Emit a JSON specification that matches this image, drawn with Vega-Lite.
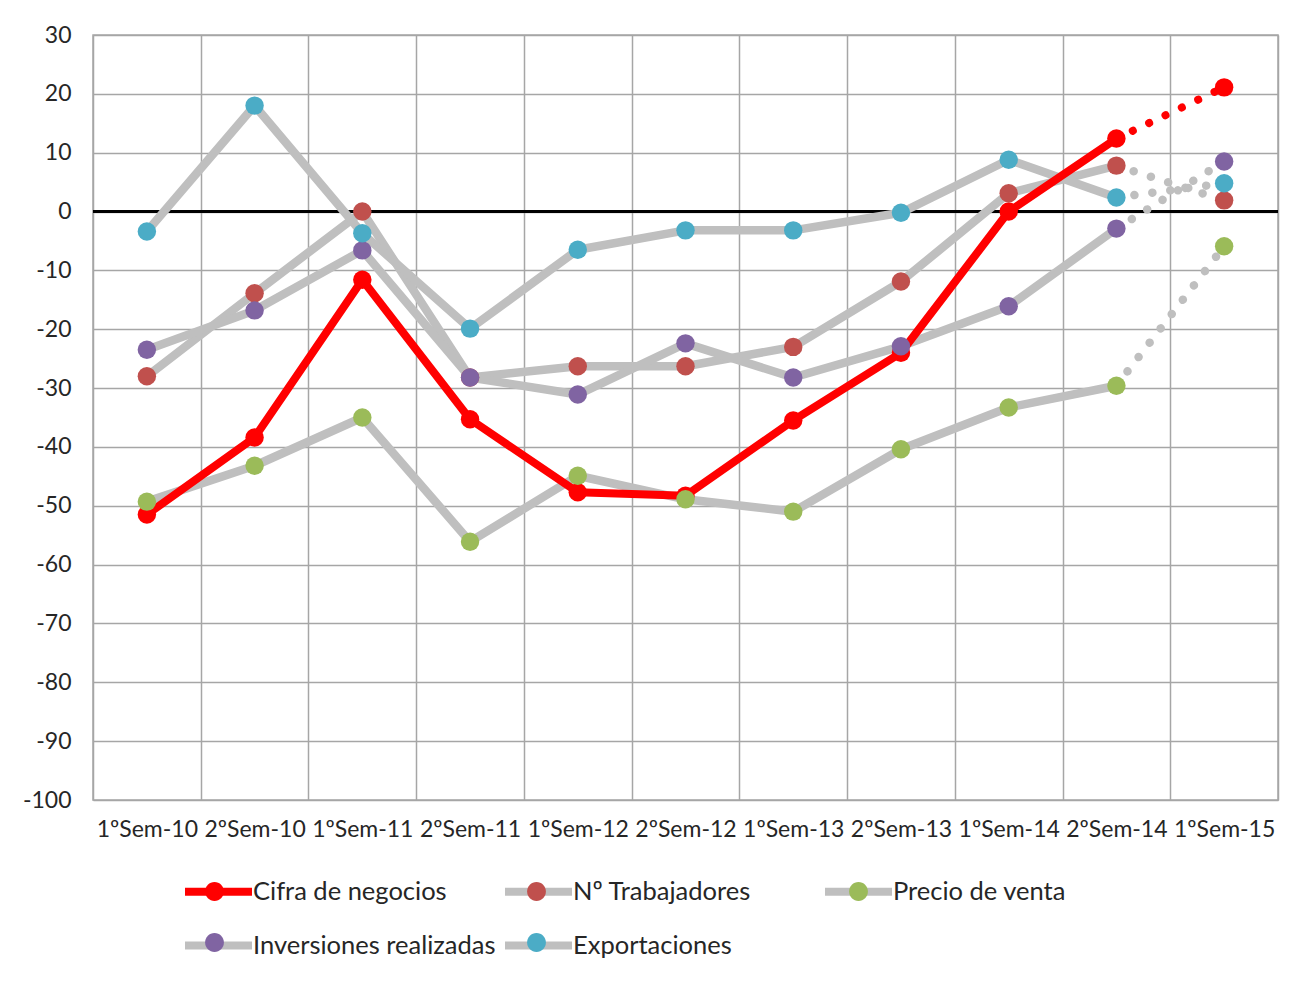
{
  "$schema": "https://vega.github.io/schema/vega-lite/v6.json",
  "width": 1185,
  "height": 765,
  "autosize": {"type": "none"},
  "padding": {"left": 93, "top": 35, "right": 26, "bottom": 186},
  "background": "white",
  "config": {
    "font": "Lato",
    "view": {"stroke": "#A6A6A6", "strokeWidth": 1.5},
    "axis": {"labelFont": "Lato", "labelFontSize": 23, "labelColor": "#262626", "ticks": false, "domain": false, "gridColor": "#A6A6A6", "gridWidth": 1.5, "gridOpacity": 1}
  },
  "data": {
    "values": [
      {"periodo": "1ºSem-10", "serie": "Cifra de negocios", "valor": -51.5},
      {"periodo": "2ºSem-10", "serie": "Cifra de negocios", "valor": -38.4},
      {"periodo": "1ºSem-11", "serie": "Cifra de negocios", "valor": -11.6},
      {"periodo": "2ºSem-11", "serie": "Cifra de negocios", "valor": -35.3},
      {"periodo": "1ºSem-12", "serie": "Cifra de negocios", "valor": -47.7},
      {"periodo": "2ºSem-12", "serie": "Cifra de negocios", "valor": -48.3},
      {"periodo": "1ºSem-13", "serie": "Cifra de negocios", "valor": -35.5},
      {"periodo": "2ºSem-13", "serie": "Cifra de negocios", "valor": -24.0},
      {"periodo": "1ºSem-14", "serie": "Cifra de negocios", "valor": 0.0},
      {"periodo": "2ºSem-14", "serie": "Cifra de negocios", "valor": 12.4},
      {"periodo": "1ºSem-15", "serie": "Cifra de negocios", "valor": 21.1},
      {"periodo": "1ºSem-10", "serie": "Nº Trabajadores", "valor": -28.0},
      {"periodo": "2ºSem-10", "serie": "Nº Trabajadores", "valor": -13.9},
      {"periodo": "1ºSem-11", "serie": "Nº Trabajadores", "valor": 0.0},
      {"periodo": "2ºSem-11", "serie": "Nº Trabajadores", "valor": -28.2},
      {"periodo": "1ºSem-12", "serie": "Nº Trabajadores", "valor": -26.3},
      {"periodo": "2ºSem-12", "serie": "Nº Trabajadores", "valor": -26.3},
      {"periodo": "1ºSem-13", "serie": "Nº Trabajadores", "valor": -23.0},
      {"periodo": "2ºSem-13", "serie": "Nº Trabajadores", "valor": -11.9},
      {"periodo": "1ºSem-14", "serie": "Nº Trabajadores", "valor": 3.1},
      {"periodo": "2ºSem-14", "serie": "Nº Trabajadores", "valor": 7.8},
      {"periodo": "1ºSem-15", "serie": "Nº Trabajadores", "valor": 1.9},
      {"periodo": "1ºSem-10", "serie": "Precio de venta", "valor": -49.3},
      {"periodo": "2ºSem-10", "serie": "Precio de venta", "valor": -43.2},
      {"periodo": "1ºSem-11", "serie": "Precio de venta", "valor": -35.0},
      {"periodo": "2ºSem-11", "serie": "Precio de venta", "valor": -56.1},
      {"periodo": "1ºSem-12", "serie": "Precio de venta", "valor": -44.9},
      {"periodo": "2ºSem-12", "serie": "Precio de venta", "valor": -48.9},
      {"periodo": "1ºSem-13", "serie": "Precio de venta", "valor": -51.0},
      {"periodo": "2ºSem-13", "serie": "Precio de venta", "valor": -40.4},
      {"periodo": "1ºSem-14", "serie": "Precio de venta", "valor": -33.3},
      {"periodo": "2ºSem-14", "serie": "Precio de venta", "valor": -29.6},
      {"periodo": "1ºSem-15", "serie": "Precio de venta", "valor": -5.9},
      {"periodo": "1ºSem-10", "serie": "Inversiones realizadas", "valor": -23.5},
      {"periodo": "2ºSem-10", "serie": "Inversiones realizadas", "valor": -16.8},
      {"periodo": "1ºSem-11", "serie": "Inversiones realizadas", "valor": -6.6},
      {"periodo": "2ºSem-11", "serie": "Inversiones realizadas", "valor": -28.2},
      {"periodo": "1ºSem-12", "serie": "Inversiones realizadas", "valor": -31.1},
      {"periodo": "2ºSem-12", "serie": "Inversiones realizadas", "valor": -22.4},
      {"periodo": "1ºSem-13", "serie": "Inversiones realizadas", "valor": -28.2},
      {"periodo": "2ºSem-13", "serie": "Inversiones realizadas", "valor": -22.9},
      {"periodo": "1ºSem-14", "serie": "Inversiones realizadas", "valor": -16.1},
      {"periodo": "2ºSem-14", "serie": "Inversiones realizadas", "valor": -2.9},
      {"periodo": "1ºSem-15", "serie": "Inversiones realizadas", "valor": 8.5},
      {"periodo": "1ºSem-10", "serie": "Exportaciones", "valor": -3.4},
      {"periodo": "2ºSem-10", "serie": "Exportaciones", "valor": 18.0},
      {"periodo": "1ºSem-11", "serie": "Exportaciones", "valor": -3.7},
      {"periodo": "2ºSem-11", "serie": "Exportaciones", "valor": -19.9},
      {"periodo": "1ºSem-12", "serie": "Exportaciones", "valor": -6.5},
      {"periodo": "2ºSem-12", "serie": "Exportaciones", "valor": -3.2},
      {"periodo": "1ºSem-13", "serie": "Exportaciones", "valor": -3.2},
      {"periodo": "2ºSem-13", "serie": "Exportaciones", "valor": -0.2},
      {"periodo": "1ºSem-14", "serie": "Exportaciones", "valor": 8.8},
      {"periodo": "2ºSem-14", "serie": "Exportaciones", "valor": 2.4},
      {"periodo": "1ºSem-15", "serie": "Exportaciones", "valor": 4.8}
    ]
  },
  "encoding": {
    "x": {"field": "periodo", "type": "nominal", "sort": null, "title": null,
      "scale": {"paddingInner": 0, "paddingOuter": 0},
      "axis": {"labelAngle": 0, "labelPadding": 18, "grid": true, "tickBand": "extent"}},
    "y": {"field": "valor", "type": "quantitative", "title": null,
      "scale": {"domain": [-100, 30], "nice": false},
      "axis": {"values": [-100, -90, -80, -70, -60, -50, -40, -30, -20, -10, 0, 10, 20, 30], "labelPadding": 22, "grid": true, "labelExpr": "'' + datum.value"}}
  },
  "layer": [
    {
      "mark": {"type": "rule", "color": "black", "strokeWidth": 3},
      "encoding": {"y": {"datum": 0}, "x": {"value": 0}, "x2": {"value": 1185}}
    },
    {
      "transform": [{"filter": "datum.serie != 'Cifra de negocios' && datum.periodo != '1ºSem-15'"}],
      "mark": {"type": "line", "strokeWidth": 8.5, "strokeCap": "round", "strokeJoin": "round"},
      "encoding": {
        "stroke": {"field": "serie", "type": "nominal", "sort": null,
          "scale": {"domain": ["Cifra de negocios", "Nº Trabajadores", "Precio de venta", "Inversiones realizadas", "Exportaciones"],
                    "range": ["#FF0000", "#BFBFBF", "#BFBFBF", "#BFBFBF", "#BFBFBF"]},
          "legend": {"orient": "none", "direction": "vertical", "legendX": 88, "legendY": 819, "columns": 3, "gridAlign": "all", "title": null,
            "values": ["Cifra de negocios", "Inversiones realizadas", "Nº Trabajadores", "Exportaciones", "Precio de venta"],
            "symbolType": "M -1 0 L 1 0", "symbolSize": 4489, "symbolStrokeWidth": 8, "labelFontSize": 25.5, "labelFont": "Lato", "labelColor": "#262626",
            "labelLimit": 400, "labelOffset": -3, "columnPadding": -7, "rowPadding": -3, "zindex": 1}}
      }
    },
    {
      "transform": [{"filter": "datum.serie != 'Cifra de negocios' && (datum.periodo == '1ºSem-15' || datum.periodo == '2ºSem-14')"}],
      "mark": {"type": "line", "strokeWidth": 8.5, "strokeCap": "round", "strokeDash": [0.1, 18]},
      "encoding": {"stroke": {"field": "serie", "type": "nominal", "sort": null}}
    },
    {
      "transform": [{"filter": "datum.serie == 'Cifra de negocios' && datum.periodo != '1ºSem-15'"}],
      "mark": {"type": "line", "strokeWidth": 8, "strokeCap": "round", "strokeJoin": "round"},
      "encoding": {"stroke": {"field": "serie", "type": "nominal", "sort": null}}
    },
    {
      "transform": [{"filter": "datum.serie == 'Cifra de negocios' && (datum.periodo == '1ºSem-15' || datum.periodo == '2ºSem-14')"}],
      "mark": {"type": "line", "strokeWidth": 8, "strokeCap": "round", "strokeDash": [0.1, 18]},
      "encoding": {"stroke": {"field": "serie", "type": "nominal", "sort": null}}
    },
    {
      "mark": {"type": "point", "filled": true, "opacity": 1, "size": 340, "shape": "circle"},
      "encoding": {
        "fill": {"field": "serie", "type": "nominal", "sort": null,
          "scale": {"domain": ["Exportaciones", "Inversiones realizadas", "Precio de venta", "Nº Trabajadores", "Cifra de negocios"],
                    "range": ["#4BACC6", "#8064A2", "#9BBB59", "#C0504D", "#FF0000"]},
          "legend": {"orient": "none", "direction": "vertical", "legendX": 88, "legendY": 823, "columns": 3, "gridAlign": "all", "title": null,
            "values": ["Cifra de negocios", "Inversiones realizadas", "Nº Trabajadores", "Exportaciones", "Precio de venta"],
            "symbolType": "M -1.12 0 M 1.12 0 M -0.28 0 A 0.28 0.28 0 1 0 0.28 0 A 0.28 0.28 0 1 0 -0.28 0 Z", "symbolSize": 4489, "symbolStrokeWidth": 0, "symbolOpacity": 1,
            "labelFontSize": 25.5, "labelFont": "Lato", "labelExpr": "''",
            "labelLimit": 400, "labelOffset": -3, "columnPadding": 245, "rowPadding": 4, "zindex": 2}}
      }
    }
  ]
}
